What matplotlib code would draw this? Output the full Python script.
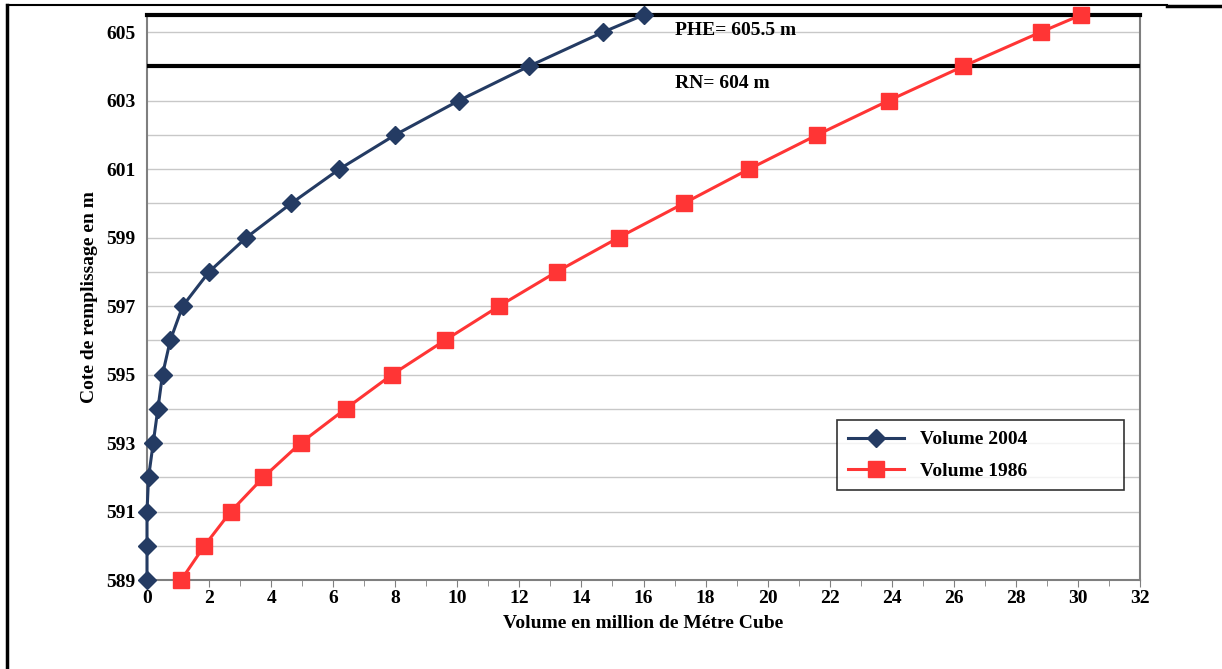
import numpy as np
import matplotlib.pyplot as plt
from matplotlib.lines import Line2D

# Cote de remplissage (m)
cotes = [589, 590, 591, 592, 593, 594, 595, 596, 597, 598, 599,
         600, 601, 602, 603, 604, 605, 605.5]
# Volumes (millions de m3)
vol_2004 = [0.0, 0.0, 0.0, 0.05, 0.2, 0.35, 0.5, 0.75, 1.15, 2.0, 3.2,
            4.65, 6.2, 8.0, 10.05, 12.3, 14.7, 16.0]
vol_1986 = [1.1, 1.85, 2.7, 3.75, 4.95, 6.4, 7.9, 9.6, 11.35, 13.2, 15.2,
            17.3, 19.4, 21.6, 23.9, 26.3, 28.8, 30.1]

PHE = 605.5
RN = 604

BLEU = '#243B63'
ROUGE = '#FF3535'
FONT = 'Liberation Serif'

plt.rcParams['font.family'] = FONT
plt.rcParams['font.weight'] = 'bold'

fig = plt.figure(figsize=(12.22, 6.69), dpi=100, facecolor='white')
ax = fig.add_axes([0.1203, 0.133, 0.8126, 0.8446])

# grille horizontale
for c in range(589, 606):
    ax.axhline(c, color='#C8C8C8', lw=1.0, zorder=0)

# lignes PHE et RN
ax.axhline(PHE, color='black', lw=3, zorder=3, clip_on=False)
ax.axhline(RN, color='black', lw=3, zorder=3)
ax.text(17.0, 605.05, 'PHE= 605.5 m', fontsize=14, fontweight='bold', va='center')
ax.text(17.0, 603.5, 'RN= 604 m', fontsize=14, fontweight='bold', va='center')

ax.plot(vol_2004, cotes, color=BLEU, lw=2.2, marker='D', markersize=9,
        zorder=4, clip_on=False, label='Volume 2004')
ax.plot(vol_1986, cotes, color=ROUGE, lw=2.2, marker='s', markersize=11,
        zorder=4, clip_on=False, label='Volume 1986')

ax.set_xlim(0, 32)
ax.set_ylim(589, 605.5)
ax.set_xticks(np.arange(0, 33, 2))
ax.set_xticks(np.arange(1, 33, 2), minor=True)
ax.set_yticks(np.arange(589, 606, 2))
ax.tick_params(axis='x', which='major', length=5, color='#808080', labelsize=14, pad=2)
ax.tick_params(axis='x', which='minor', length=4, color='#808080')
ax.tick_params(axis='y', length=0, labelsize=14, pad=8)
for lab in ax.get_xticklabels() + ax.get_yticklabels():
    lab.set_fontweight('bold')

for s in ['left', 'bottom', 'right']:
    ax.spines[s].set_color('#7F7F7F')
    ax.spines[s].set_linewidth(1.5)
ax.spines['top'].set_visible(False)

ax.set_xlabel('Volume en million de Métre Cube', fontsize=14, fontweight='bold', labelpad=6)
ax.set_ylabel('Cote de remplissage en m', fontsize=14, fontweight='bold', labelpad=6)

leg = ax.legend(loc='upper left', bbox_to_anchor=(0.695, 0.162, 0.289, 0.121),
                mode='expand', borderaxespad=0, frameon=True, fancybox=False,
                edgecolor='black', handlelength=2.9, borderpad=0.55, labelspacing=0.7,
                prop={'family': FONT, 'weight': 'bold', 'size': 14})
leg.get_frame().set_linewidth(1.2)

# cadre du document
fig.add_artist(Line2D([0.006, 0.006], [0.0, 0.993], color='black', lw=2.5,
                      transform=fig.transFigure))
fig.add_artist(Line2D([0.006, 0.955], [0.993, 0.993], color='black', lw=1.5,
                      transform=fig.transFigure))
fig.add_artist(Line2D([0.955, 1.0], [0.991, 0.991], color='black', lw=2.5,
                      transform=fig.transFigure))

plt.savefig('out.png', dpi=100, facecolor='white')
